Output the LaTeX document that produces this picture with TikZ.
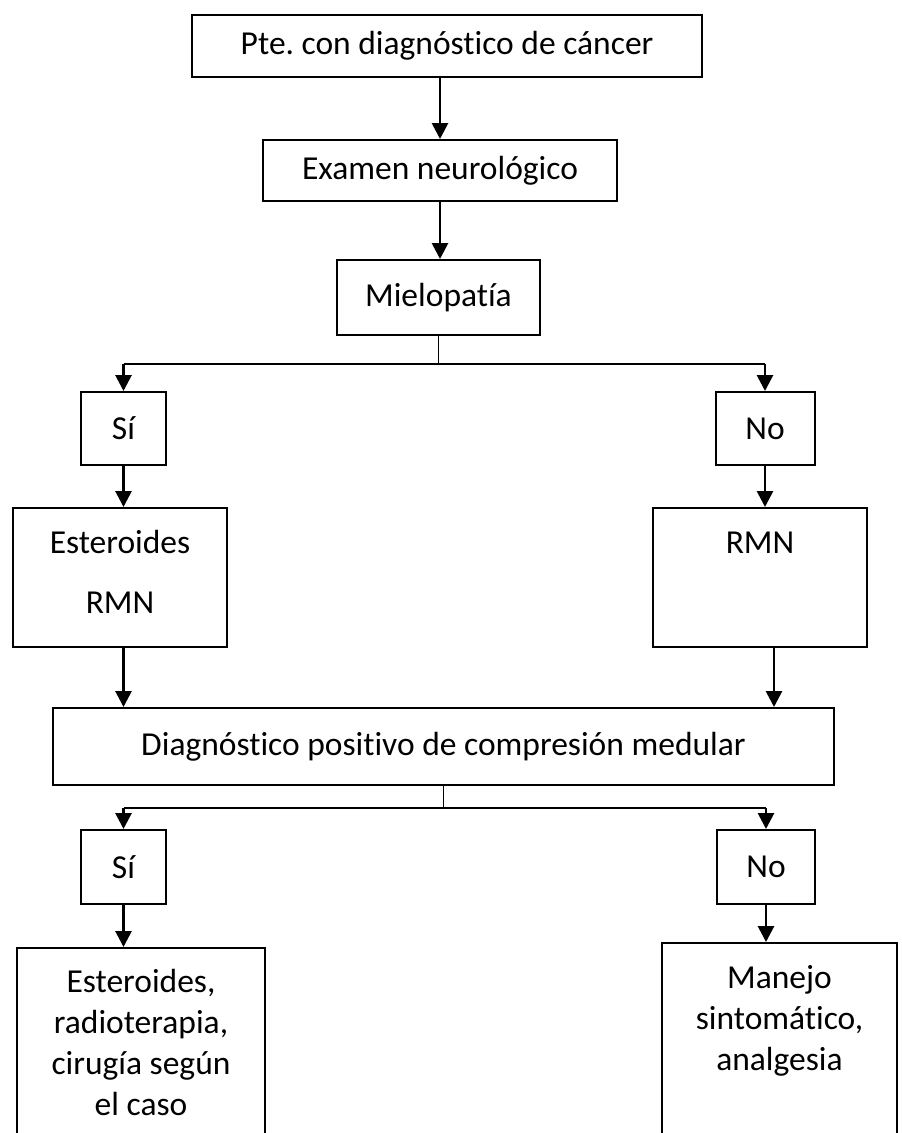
\documentclass[tikz,border=0pt]{standalone}
\usepackage{fontspec}
\setmainfont[Ligatures=NoCommon]{Carlito}
\usetikzlibrary{positioning}
\usetikzlibrary{calc}
\usetikzlibrary{arrows.meta}
\tikzset{every picture/.style={line width=2pt},box/.style={draw,rectangle,inner sep=0pt,font=\fontsize{33.5}{41}\selectfont},txt/.style={inner sep=0pt,align=center,anchor=north,font=\fontsize{33.5}{41}\selectfont},arr/.style={line width=2.8pt,-{Triangle[width=16pt,length=16pt]}},split/.style={line width=1.8pt}}
\frenchspacing

\begin{document}
\begin{tikzpicture}[x=1pt, y=-1pt]
\useasboundingbox (0,0) rectangle (902,1133);
\clip (0,0) rectangle (902,1133);
\node (pte) at (447,46) [box,minimum width=510pt,minimum height=62pt] {Pte. con diagnóstico de cáncer};
\node (exam) at (440,170.5) [box,minimum width=354pt,minimum height=61pt] {Examen neurológico};
\node (mielo) at (438.5,297.5) [box,minimum width=203pt,minimum height=75pt] {Mielopatía};
\node (si1) at (123.5,428.5) [box,minimum width=85pt,minimum height=73pt] {Sí};
\node (no1) at (765,428.5) [box,minimum width=99pt,minimum height=73pt] {No};
\node (est) at (120,577.5) [box,minimum width=214pt,minimum height=139pt] {};
\node (rmn) at (760,577.5) [box,minimum width=214pt,minimum height=139pt] {};
\node (diag) at (443.5,746.5) [box,minimum width=781pt,minimum height=77pt] {Diagnóstico positivo de compresión medular};
\node (si2) at (123.5,867) [box,minimum width=85pt,minimum height=74pt] {Sí};
\node (no2) at (766,867) [box,minimum width=98pt,minimum height=74pt] {No};
\node (trat) at (141,1063) [box,minimum width=248pt,minimum height=230pt] {};
\node (sint) at (779.5,1058) [box,minimum width=235pt,minimum height=230pt] {};

\node (estT) at ($(est.north)+(0,22)$) [txt,font=\fontsize{33.5}{60}\selectfont] {Esteroides\\RMN};
\node (rmnT) at ($(rmn.north)+(0,24)$) [txt] {RMN};
\node (tratT) at ($(trat.north)+(0,21)$) [txt] {Esteroides,\\radioterapia,\\cirugía según\\el caso};
\node (sintT) at ($(sint.north)+(0,22)$) [txt] {Manejo\\sintomático,\\analgesia};

\draw[arr] (pte.south -| exam.north) -- (exam.north);
\draw[arr] (exam.south) -- (exam.south |- mielo.north);

\draw[split] (mielo.south) -- ++(0,28) coordinate (s1);
\draw[split] (s1 -| si1.north) -- (s1 -| no1.north);
\foreach \b in {si1, no1} {
\draw[arr] (s1 -| \b.north) -- (\b.north);
}
\draw[arr] (si1.south) -- (si1.south |- est.north);
\draw[arr] (no1.south) -- (no1.south |- rmn.north);
\draw[arr] (est.south -| si1.south) -- (si1.south |- diag.north);
\draw[arr] ($(rmn.south)+(14,0)$) coordinate (r1) -- (r1 |- diag.north);

\draw[split] (diag.south) -- ++(0,22) coordinate (s2);
\draw[split] (s2 -| si2.north) -- (s2 -| no2.north);
\foreach \b in {si2, no2} {
\draw[arr] (s2 -| \b.north) -- (\b.north);
}
\draw[arr] (si2.south) -- (si2.south |- trat.north);
\draw[arr] (no2.south) -- (no2.south |- sint.north);
\end{tikzpicture}
\end{document}
